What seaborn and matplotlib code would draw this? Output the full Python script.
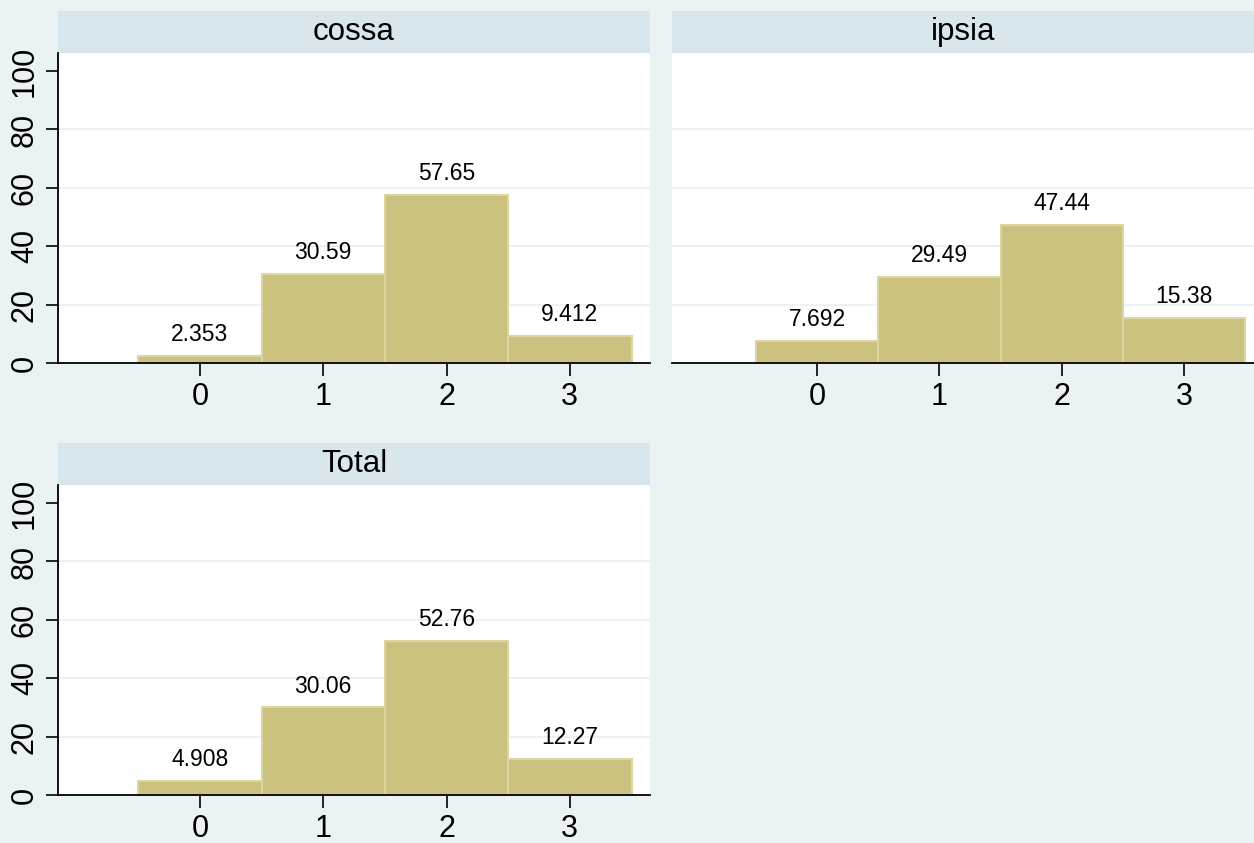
import matplotlib
matplotlib.use("Agg")
import matplotlib.pyplot as plt
import seaborn as sns
import numpy as np
from matplotlib.patches import Rectangle

categories = ["0", "1", "2", "3"]
cossa = [2.353, 30.59, 57.65, 9.412]
ipsia = [7.692, 29.49, 47.44, 15.38]
total = [4.908, 30.06, 52.76, 12.27]
panel_titles = ["cossa", "ipsia", "Total"]
yticks = [0, 20, 40, 60, 80, 100]

bg = "#EAF2F3"
strip = "#D9E6EB"
bar_col = "#CCC27F"
bar_edge = "#DDD6A3"

sns.set_theme(style="white")
plt.rcParams['font.family'] = ['Liberation Sans', 'DejaVu Sans']
plt.rcParams['text.color'] = 'black'
plt.rcParams['xtick.labelcolor'] = 'black'
plt.rcParams['ytick.labelcolor'] = 'black'

W, H = 1254, 843
fig = plt.figure(figsize=(W / 100, H / 100), dpi=100)
fig.patch.set_facecolor(bg)

def px_axes(x0, x1, ytop, ybot):
    return fig.add_axes([x0 / W, 1 - ybot / H, (x1 - x0) / W, (ybot - ytop) / H])

panels = [
    (px_axes(58, 650, 53, 363), cossa, panel_titles[0], (-1.15, 3.65), True),
    (px_axes(672, 1254, 53, 363), ipsia, panel_titles[1], (-1.185, 3.57), False),
    (px_axes(58, 650, 485, 795), total, panel_titles[2], (-1.15, 3.65), True),
]

for ax, vals, title, xlim, show_y in panels:
    ax.set_facecolor("white")
    for g in yticks[1:-1]:
        ax.axhline(g, color=bg, lw=1.5, zorder=0)
    sns.barplot(x=categories, y=vals, width=1.0, color=bar_col, saturation=1,
                edgecolor=bar_edge, linewidth=1.5, ax=ax, zorder=2)
    labels = [f"{v:g}" for v in vals]
    ax.bar_label(ax.containers[0], labels=labels, padding=7, fontsize=16.5,
                 color="black")
    ax.set_xlim(*xlim)
    ax.set_ylim(0, 106.2)
    ax.set_xlabel("")
    ax.set_ylabel("")
    ax.grid(False)
    for s in ["top", "right"]:
        ax.spines[s].set_visible(False)
    ax.spines["bottom"].set_color("black")
    ax.spines["bottom"].set_linewidth(1.3)
    ax.tick_params(axis="x", bottom=True, length=9, width=1.2, color="black",
                   labelsize=22, pad=5)
    if show_y:
        ax.spines["left"].set_color("black")
        ax.spines["left"].set_linewidth(1.3)
        ax.set_yticks(yticks)
        ax.tick_params(axis="y", left=True, length=9, width=1.2, color="black",
                       labelsize=22, pad=4)
        for lab in ax.get_yticklabels():
            lab.set_rotation(90)
            lab.set_va("center")
    else:
        ax.spines["left"].set_visible(False)
        ax.set_yticks([])
    # strip title
    sh = 42 / 310
    ax.add_patch(Rectangle((0, 1), 1, sh, transform=ax.transAxes,
                           facecolor=strip, edgecolor="none", clip_on=False))
    ax.text(0.5, 1 + sh / 2, title, transform=ax.transAxes, ha="center",
            va="center", fontsize=22.5, color="black")

fig.savefig("out.png", dpi=100, facecolor=bg)
